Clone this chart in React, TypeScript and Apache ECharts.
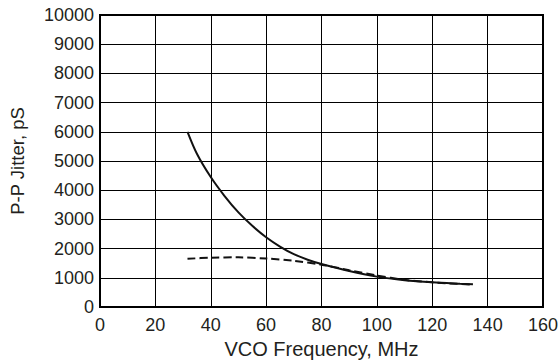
import React, { useEffect, useRef } from "react";
import * as echarts from "echarts";

const solidFreq = [31.6, 35, 40, 45, 50, 55, 60, 65, 70, 75, 80, 90, 100, 110, 120, 130, 134.7];
const solidJitter = [6000, 5250, 4450, 3800, 3240, 2780, 2390, 2070, 1810, 1620, 1470, 1230, 1040, 920, 845, 795, 775];
const dashFreq = [31.6, 40, 50, 60, 70, 80, 90, 100, 110, 120, 134.7];
const dashJitter = [1650, 1690, 1700, 1660, 1580, 1450, 1260, 1080, 930, 845, 765];

const xName = "VCO Frequency, MHz";
const yName = "P-P Jitter, pS";

export default function App() {
  const ref = useRef<HTMLDivElement>(null);
  useEffect(() => {
    const chart = echarts.init(ref.current!, undefined, { renderer: "svg" });
    const font = "Liberation Sans, Arial, Helvetica, sans-serif";
    const color = "#231f20";
    chart.setOption({
      animation: false,
      backgroundColor: "#fff",
      grid: {
        left: 100,
        right: 16,
        top: 15,
        bottom: 55,
        containLabel: false,
        outerBoundsMode: "none",
        show: true,
        borderColor: "#000",
        borderWidth: 2,
        backgroundColor: "transparent",
      },
      xAxis: {
        type: "value",
        min: 0,
        max: 160,
        interval: 20,
        name: xName,
        nameLocation: "middle",
        nameGap: 32,
        nameTextStyle: { fontFamily: font, fontSize: 20, color },
        axisLine: { show: true, lineStyle: { color: "#000", width: 2 } },
        axisTick: { show: false },
        axisLabel: { fontFamily: font, fontSize: 18, color, margin: 9 },
        splitLine: { show: true, lineStyle: { color: "#000", width: 1 } },
      },
      yAxis: {
        type: "value",
        min: 0,
        max: 10000,
        interval: 1000,
        name: yName,
        nameLocation: "middle",
        nameGap: 73,
        nameTextStyle: { fontFamily: font, fontSize: 18.5, color },
        axisLine: { show: true, lineStyle: { color: "#000", width: 2 } },
        axisTick: { show: false },
        axisLabel: { fontFamily: font, fontSize: 18, color, margin: 6, formatter: (v: number) => String(v) },
        splitLine: { show: true, lineStyle: { color: "#000", width: 1 } },
      },
      series: [
        {
          type: "line",
          data: solidFreq.map((f, i) => [f, solidJitter[i]]),
          smooth: 0.3,
          showSymbol: false,
          lineStyle: { color: "#111", width: 2 },
        },
        {
          type: "line",
          data: dashFreq.map((f, i) => [f, dashJitter[i]]),
          smooth: 0.3,
          showSymbol: false,
          lineStyle: { color: "#111", width: 2, type: [8, 4] },
        },
      ],
    });
    return () => chart.dispose();
  }, []);
  return <div ref={ref} style={{ width: 559, height: 362, position: "absolute", left: 0, top: 0 }} />;
}
